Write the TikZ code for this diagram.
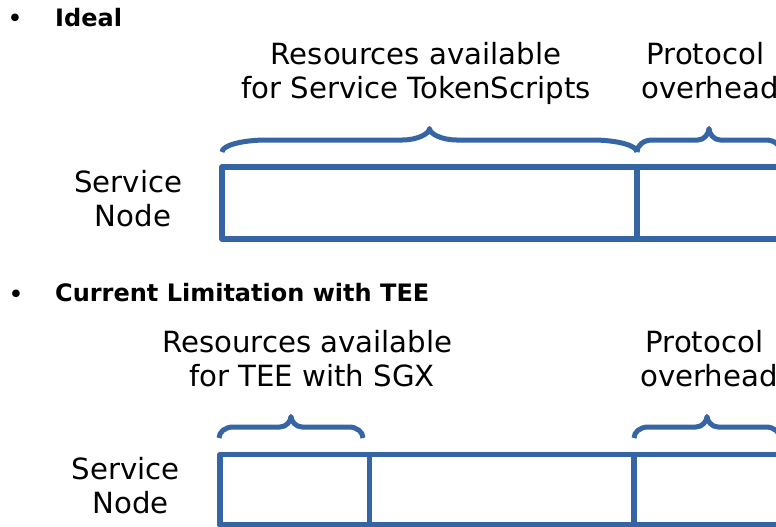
\documentclass[tikz,border=0pt]{standalone}
\usepackage{fontspec}
\setmainfont{DejaVu Sans}
\definecolor{barblue}{RGB}{54,101,164}
% brace: #1 left x, #2 right x, #3 end y, #4 flat y, #5 tip y, #6 corner width, #7 middle width
\newcommand\drawbrace[7]{%
  \draw[bracestyle]
    (#1,#3) .. controls (#1,{#3-0.552*(#3-#4)}) and ({#1+0.448*#6},#4) .. ({#1+#6},#4)
    -- ({(#1+#2)/2-#7},#4)
    .. controls ({(#1+#2)/2-0.448*#7},#4) and ({(#1+#2)/2},{#5+0.448*(#4-#5)}) .. ({(#1+#2)/2},#5)
    .. controls ({(#1+#2)/2},{#5+0.448*(#4-#5)}) and ({(#1+#2)/2+0.448*#7},#4) .. ({(#1+#2)/2+#7},#4)
    -- ({#2-#6},#4)
    .. controls ({#2-0.448*#6},#4) and (#2,{#3-0.552*(#3-#4)}) .. (#2,#3);}
\begin{document}
\begin{tikzpicture}[x=1pt,y=-1pt,
  barline/.style={draw=barblue,line width=5.5pt,line join=round},
  bracestyle/.style={draw=barblue,line width=5pt,line join=round},
  label/.style={inner sep=0pt,anchor=base,align=center,font=\fontsize{29.2}{34}\selectfont},
  heading/.style={inner sep=0pt,anchor=base west,font=\fontsize{24}{28}\selectfont\bfseries},
  bullet/.style={inner sep=0pt,anchor=base,font=\fontsize{26}{30}\selectfont}]
\useasboundingbox (0,0) rectangle (776,527);
\clip (0,0) rectangle (776,527);
\fill[white] (0,0) rectangle (776,527);

% first case: ideal (multi-line labels are placed by the baseline of their last line)
\node[bullet] (b1) at (15,28) {•};
\node[heading] (h1) at (55,27) {Ideal};
\node[label] (res1) at (416,98) {Resources available\\for Service TokenScripts};
\node[label] (pro1) at (710,99) {Protocol\hspace*{0.318em}\\overhead};
\node[label] (sn1) at (133,226) {Service\hspace*{0.318em}\\Node};
\drawbrace{222}{637}{152}{140}{128.5}{45}{27}
\drawbrace{637}{781}{152}{140}{128.5}{15}{11}
\draw[barline] (222,167) rectangle (800,239);
\draw[barline] (637,167) -- (637,239);

% second case: current limitation
\node[bullet] (b2) at (16,303) {•};
\node[heading] (h2) at (55,301) {Current Limitation with TEE};
\node[label] (res2) at (312,386) {Resources available\hspace*{0.318em}\\for TEE with SGX};
\node[label] (pro2) at (709,386) {Protocol\hspace*{0.318em}\\overhead};
\node[label] (sn2) at (130.5,513) {Service\hspace*{0.318em}\\Node};
\drawbrace{219}{363}{438}{427}{416.5}{14}{11}
\drawbrace{634}{780}{438}{427}{416.5}{14}{11}
\draw[barline] (220,454.5) rectangle (800,525);
\draw[barline] (369.5,454.5) -- (369.5,525);
\draw[barline] (634,454.5) -- (634,525);
\end{tikzpicture}
\end{document}
